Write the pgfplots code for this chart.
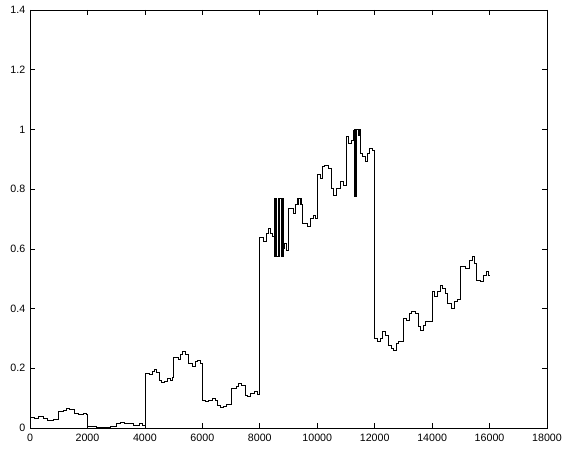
\documentclass[border=0pt]{standalone}
\usepackage{fontspec}
\setmainfont{Liberation Sans}
\usepackage{pgfplots}
\pgfplotsset{compat=1.18}
\begin{document}
\begin{tikzpicture}
\begin{axis}[
  scale only axis,
  width=387.75pt, height=313.5pt,
  xmin=0, xmax=18000, ymin=0, ymax=1.4,
  xtick={0,2000,...,18000},
  ytick={0,0.2,...,1.4},
  tick align=inside,
  major tick length=3.5pt,
  axis line style={line width=0.5pt},
  every tick/.style={black, line width=0.5pt},
  tick label style={font=\fontsize{8}{9.6}\selectfont},
  /pgf/number format/assume math mode=true,
  /pgf/number format/1000 sep={},
  scaled x ticks=false,
  yticklabel style={/pgf/number format/fixed},
  xticklabel style={yshift=-1pt},
]
\addplot[const plot, black, line width=0.55pt] coordinates {
(0,0.036) (150,0.033) (280,0.038) (450,0.032) (620,0.024) (800,0.028)
(1000,0.055) (1150,0.058) (1250,0.066) (1380,0.062) (1550,0.050) (1680,0.045) (1850,0.050) (1950,0.046)
(2000,0.004) (2300,0.003) (2600,0.002) (2800,0.004)
(3000,0.014) (3150,0.018) (3300,0.014) (3600,0.010) (3800,0.014) (3900,0.010)
(4000,0.183) (4170,0.180) (4260,0.189) (4340,0.195) (4400,0.186) (4510,0.161) (4570,0.152) (4680,0.155) (4790,0.166) (4870,0.161) (4960,0.170)
(5000,0.237) (5165,0.230) (5245,0.245) (5300,0.256) (5410,0.245) (5525,0.217) (5640,0.205) (5750,0.222) (5840,0.228) (5920,0.217)
(6000,0.094) (6110,0.088) (6225,0.091) (6360,0.099) (6450,0.094) (6540,0.077) (6620,0.069) (6730,0.073) (6845,0.080)
(7000,0.133) (7180,0.138) (7260,0.150) (7370,0.144) (7485,0.110) (7575,0.105) (7685,0.116) (7800,0.122) (7910,0.114)
(8000,0.639) (8135,0.624) (8226,0.652) (8305,0.669) (8362,0.652) (8452,0.641)
(8510,0.77) (8520,0.576) (8530,0.77) (8540,0.576) (8550,0.77) (8560,0.576) (8570,0.77) (8580,0.576)
(8630,0.77) (8640,0.576) (8650,0.77) (8660,0.576) (8670,0.77) (8680,0.576) (8690,0.77)
(8750,0.576) (8760,0.77) (8770,0.576) (8780,0.77) (8790,0.576) (8800,0.77) (8810,0.576) (8820,0.600)
(8870,0.620) (8920,0.596)
(9000,0.736) (9180,0.720) (9255,0.750)
(9310,0.769) (9320,0.748) (9330,0.769) (9340,0.748) (9350,0.769)
(9420,0.748) (9430,0.769) (9440,0.748) (9450,0.769) (9460,0.748)
(9492,0.686) (9661,0.674) (9774,0.702) (9855,0.713) (9944,0.702)
(10000,0.850) (10110,0.836) (10190,0.875) (10250,0.881) (10400,0.870) (10485,0.803) (10566,0.780) (10678,0.803) (10791,0.825) (10904,0.814)
(11000,0.976) (11096,0.953) (11187,0.965) (11244,0.998) (11255,0.98) (11265,0.998) (11275,0.98) (11285,0.998)
(11300,0.775) (11310,1.0) (11320,0.775) (11330,1.0) (11340,0.775) (11350,1.0) (11360,0.775) (11370,1.0)
(11420,0.98) (11430,1.0) (11440,0.98) (11450,1.0)
(11504,0.920) (11583,0.909) (11661,0.892) (11729,0.920) (11808,0.937) (11922,0.930)
(12000,0.300) (12091,0.289) (12182,0.300) (12262,0.323) (12376,0.311) (12490,0.278) (12570,0.267) (12660,0.261) (12752,0.283) (12832,0.289)
(13000,0.367) (13117,0.360) (13208,0.384) (13288,0.390) (13402,0.384) (13516,0.339) (13596,0.328) (13687,0.345) (13778,0.356)
(14000,0.456) (14086,0.440) (14198,0.456) (14281,0.479) (14370,0.467) (14462,0.450) (14541,0.418) (14656,0.401) (14770,0.425) (14880,0.432)
(15000,0.540) (15169,0.535) (15306,0.563) (15397,0.574) (15487,0.552) (15532,0.496) (15682,0.490) (15795,0.512) (15875,0.523) (15943,0.512)
(16000,0.512)
};
\end{axis}
\path (-22.5pt,-18pt) rectangle (411pt,321pt);
\end{tikzpicture}
\end{document}
